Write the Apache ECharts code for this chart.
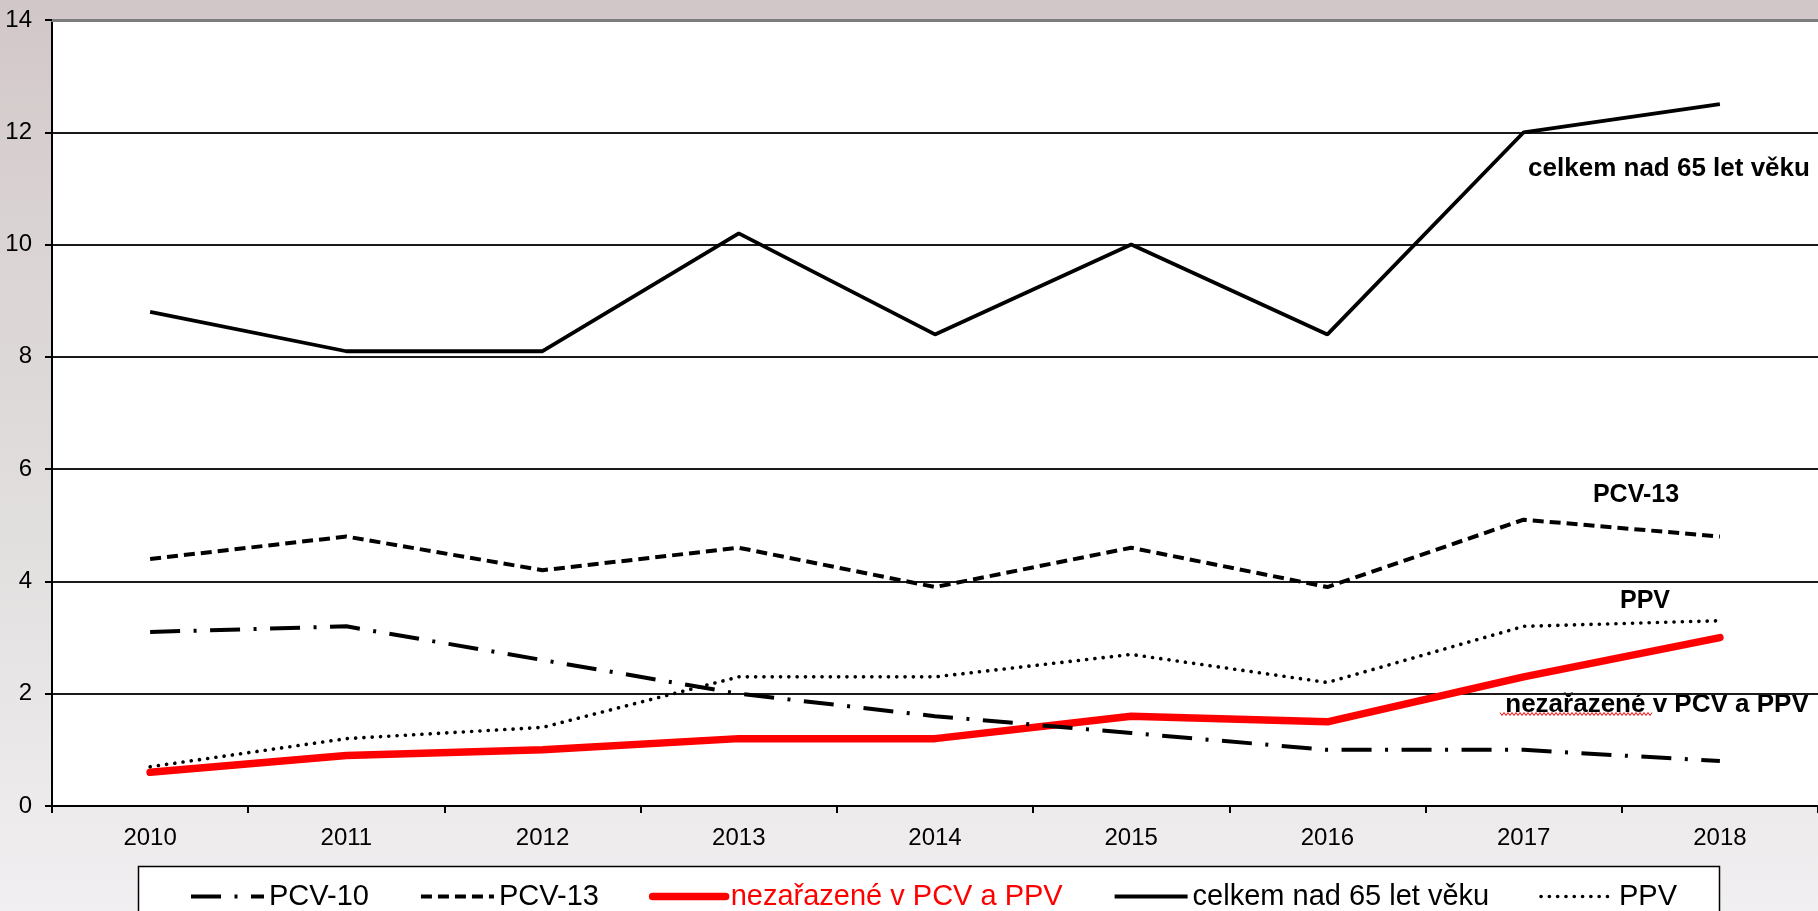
<!DOCTYPE html>
<html>
<head>
<meta charset="utf-8">
<title>Pneumokokové infekce nad 65 let</title>
<script src="https://cdn.jsdelivr.net/npm/echarts@6/dist/echarts.min.js"></script>
<style>
  html, body { margin: 0; padding: 0; }
  #chart { width: 1818px; height: 911px; }
</style>
</head>
<body>
<div id="chart"></div>
<script>
const years = ['2010', '2011', '2012', '2013', '2014', '2015', '2016', '2017', '2018']

const pcv10 = [3.1, 3.2, 2.6, 2.0, 1.6, 1.3, 1.0, 1.0, 0.8]
const pcv13 = [4.4, 4.8, 4.2, 4.6, 3.9, 4.6, 3.9, 5.1, 4.8]
const nezarazene = [0.6, 0.9, 1.0, 1.2, 1.2, 1.6, 1.5, 2.3, 3.0]
const celkem = [8.8, 8.1, 8.1, 10.2, 8.4, 10.0, 8.4, 12.0, 12.5]
const ppv = [0.7, 1.2, 1.4, 2.3, 2.3, 2.7, 2.2, 3.2, 3.3]

const seriesNames = ['PCV-10', 'PCV-13', 'nezařazené v PCV a PPV', 'celkem nad 65 let věku', 'PPV']

const font = '"Liberation Sans", Arial, sans-serif'

// line looks shared by the series and their legend samples
const styles = {
  pcv10: { color: '#000', width: 4, type: [30, 13.5, 3, 13.5] },
  pcv13: { color: '#000', width: 4, type: [11, 6] },
  nezarazene: { color: '#ff0000', width: 7.5, cap: 'round', join: 'round' },
  celkem: { color: '#000', width: 3.8 },
  ppv: { color: '#000', width: 3.6, type: [0.1, 8.2], cap: 'round' }
}

// red spell-check squiggle under the word "nezařazené"
const squiggle = []
for (let x = 1500; x <= 1652; x += 2) {
  squiggle.push([x, (x / 2) % 2 === 0 ? 712.5 : 715.5])
}

const chart = echarts.init(document.getElementById('chart'))

const makeSeries = (name, data, lineStyle, z) => ({
  name,
  type: 'line',
  data,
  symbol: 'none',
  lineStyle,
  itemStyle: { color: lineStyle.color },
  z
})

const option = {
  animation: false,
  backgroundColor: {
    type: 'linear', x: 0, y: 0, x2: 0, y2: 1,
    colorStops: [
      { offset: 0, color: '#d2c7c8' },
      { offset: 0.25, color: '#dad3d3' },
      { offset: 0.6, color: '#e2dfdf' },
      { offset: 1, color: '#f1eff1' }
    ]
  },
  textStyle: { fontFamily: font },
  grid: {
    left: 52, right: -3, top: 20, bottom: 105,
    show: true, backgroundColor: '#ffffff', borderWidth: 0
  },
  legend: {
    left: 184,
    top: 877,
    itemWidth: 73,
    itemHeight: 14,
    itemGap: 50,
    itemStyle: { opacity: 0 },
    textStyle: { fontSize: 29, color: '#000', fontFamily: font },
    data: [
      { name: seriesNames[0], lineStyle: styles.pcv10 },
      { name: seriesNames[1], lineStyle: styles.pcv13 },
      { name: seriesNames[2], lineStyle: styles.nezarazene, textStyle: { color: '#ff0000' } },
      { name: seriesNames[3], lineStyle: styles.celkem },
      { name: seriesNames[4], lineStyle: styles.ppv }
    ]
  },
  xAxis: [
    {
      type: 'category',
      data: years,
      boundaryGap: true,
      axisLine: { lineStyle: { color: '#000', width: 2 } },
      axisTick: { show: true, length: 7, lineStyle: { color: '#000', width: 2 } },
      axisLabel: { color: '#000', fontSize: 24, margin: 20, fontFamily: font },
      splitLine: { show: false }
    },
    {
      type: 'category',
      data: years,
      position: 'top',
      axisLine: { lineStyle: { color: '#7d7d7d', width: 3 } },
      axisTick: { show: false },
      axisLabel: { show: false }
    }
  ],
  yAxis: {
    type: 'value',
    min: 0,
    max: 14,
    interval: 2,
    axisLine: { show: true, lineStyle: { color: '#000', width: 2 } },
    axisTick: { show: true, length: 7, lineStyle: { color: '#000', width: 2 } },
    axisLabel: { color: '#000', fontSize: 24, margin: 20, fontFamily: font },
    splitLine: { show: true, lineStyle: { color: '#1a1a1a', width: 2 } }
  },
  graphic: [
    {
      type: 'rect',
      shape: { x: 138.5, y: 866.5, width: 1581, height: 70 },
      style: { fill: '#ffffff', stroke: '#000', lineWidth: 1.5 },
      z: 0
    },
    {
      type: 'text', x: 1669, y: 169,
      style: { text: 'celkem nad 65 let věku', font: 'bold 26px ' + font, fill: '#000', textAlign: 'center', textVerticalAlign: 'middle' }
    },
    {
      type: 'text', x: 1636, y: 495,
      style: { text: 'PCV-13', font: 'bold 25px ' + font, fill: '#000', textAlign: 'center', textVerticalAlign: 'middle' }
    },
    {
      type: 'text', x: 1645, y: 601,
      style: { text: 'PPV', font: 'bold 25px ' + font, fill: '#000', textAlign: 'center', textVerticalAlign: 'middle' }
    },
    {
      type: 'text', x: 1657, y: 705,
      style: { text: 'nezařazené v PCV a PPV', font: 'bold 26px ' + font, fill: '#000', textAlign: 'center', textVerticalAlign: 'middle' }
    },
    {
      type: 'polyline',
      shape: { points: squiggle },
      style: { stroke: '#ff0000', lineWidth: 1, fill: null }
    }
  ],
  series: [
    makeSeries(seriesNames[0], pcv10, styles.pcv10, 3),
    makeSeries(seriesNames[1], pcv13, styles.pcv13, 3),
    makeSeries(seriesNames[2], nezarazene, styles.nezarazene, 2),
    makeSeries(seriesNames[3], celkem, styles.celkem, 3),
    makeSeries(seriesNames[4], ppv, styles.ppv, 3)
  ]
}

chart.setOption(option)
</script>
</body>
</html>
